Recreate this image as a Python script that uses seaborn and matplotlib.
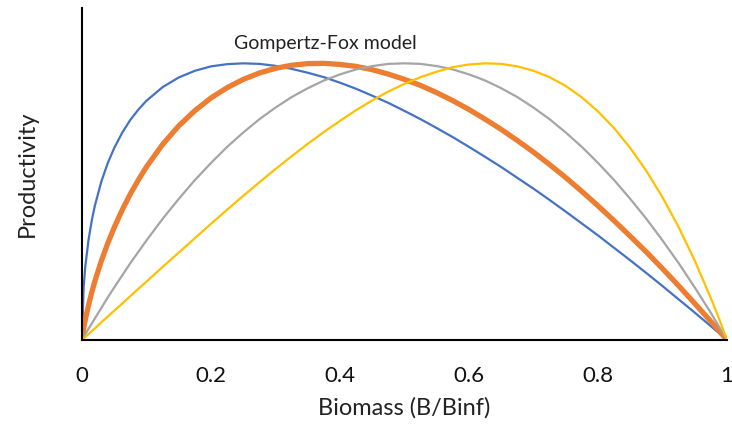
import matplotlib
matplotlib.use("Agg")
import matplotlib.pyplot as plt
import seaborn as sns
import pandas as pd

biomass = [0, 0.0025, 0.005, 0.01, 0.015, 0.02, 0.03, 0.04, 0.05, 0.0625, 0.075, 0.0875, 0.1,
           0.125, 0.15, 0.175, 0.2, 0.225, 0.25, 0.275, 0.3, 0.325, 0.35, 0.375, 0.4,
           0.425, 0.45, 0.475, 0.5, 0.525, 0.55, 0.575, 0.6, 0.625, 0.65, 0.675, 0.7,
           0.725, 0.75, 0.775, 0.8, 0.825, 0.85, 0.875, 0.9, 0.925, 0.95, 0.975, 0.9875, 1.0]

blue = [0, 0.190, 0.263, 0.36, 0.430, 0.486, 0.573, 0.64, 0.694, 0.750, 0.796, 0.833, 0.865,
        0.914, 0.949, 0.973, 0.989, 0.997, 1.0, 0.998, 0.991, 0.980, 0.966, 0.950, 0.930,
        0.908, 0.883, 0.857, 0.828, 0.798, 0.766, 0.733, 0.698, 0.662, 0.625, 0.586, 0.547,
        0.506, 0.464, 0.421, 0.378, 0.333, 0.288, 0.242, 0.195, 0.147, 0.099, 0.050, 0.025, 0]

orange = [0, 0.041, 0.072, 0.125, 0.171, 0.213, 0.286, 0.350, 0.407, 0.471, 0.528, 0.579, 0.626,
          0.707, 0.774, 0.829, 0.875, 0.912, 0.942, 0.965, 0.982, 0.993, 0.999, 1.0, 0.996,
          0.989, 0.977, 0.961, 0.942, 0.920, 0.894, 0.865, 0.833, 0.798, 0.761, 0.721, 0.679,
          0.634, 0.587, 0.537, 0.485, 0.431, 0.375, 0.318, 0.258, 0.196, 0.132, 0.067, 0.034, 0]

grey = [0, 0.010, 0.020, 0.040, 0.059, 0.078, 0.116, 0.154, 0.19, 0.234, 0.278, 0.319, 0.36,
        0.438, 0.51, 0.578, 0.64, 0.698, 0.75, 0.798, 0.84, 0.878, 0.91, 0.938, 0.96,
        0.978, 0.99, 0.998, 1.0, 0.998, 0.99, 0.978, 0.96, 0.938, 0.91, 0.878, 0.84,
        0.798, 0.75, 0.698, 0.64, 0.578, 0.51, 0.438, 0.36, 0.278, 0.19, 0.098, 0.049, 0]

yellow = [0, 0.005, 0.011, 0.021, 0.032, 0.042, 0.064, 0.085, 0.106, 0.132, 0.159, 0.185, 0.211,
          0.264, 0.316, 0.368, 0.420, 0.471, 0.521, 0.570, 0.618, 0.664, 0.709, 0.752, 0.792,
          0.831, 0.866, 0.898, 0.926, 0.950, 0.970, 0.986, 0.996, 1.0, 0.998, 0.989, 0.973,
          0.950, 0.918, 0.877, 0.826, 0.766, 0.694, 0.611, 0.516, 0.408, 0.287, 0.151, 0.078, 0]

x_ticks = [0, 0.2, 0.4, 0.6, 0.8, 1]
x_tick_labels = ["0", "0.2", "0.4", "0.6", "0.8", "1"]

sns.set_style("white")
plt.rcParams["font.family"] = ["Lato", "DejaVu Sans"]

fig = plt.figure(figsize=(7.32, 4.28), dpi=100)
ax = fig.add_axes([82 / 732, 1 - 340 / 428, 645 / 732, 332 / 428])

series = [(blue, "#4472C4", 1.6), (orange, "#ED7D31", 3.8),
          (grey, "#A5A5A5", 1.6), (yellow, "#FFC000", 1.6)]
for vals, col, lw in series:
    df = pd.DataFrame({"B": biomass, "P": vals})
    sns.lineplot(data=df, x="B", y="P", color=col, linewidth=lw, sort=False, ax=ax)

ax.set_xlim(0, 1)
ax.set_ylim(0, 1.2)
ax.set_xticks(x_ticks)
ax.set_xticklabels(x_tick_labels, fontsize=16, color="#111111")
ax.set_yticks([])
ax.tick_params(axis="x", length=0, pad=19)
for s in ["top", "right"]:
    ax.spines[s].set_visible(False)
for s in ["left", "bottom"]:
    ax.spines[s].set_color("black")
    ax.spines[s].set_linewidth(1.5)

ax.set_xlabel("Biomass (B/Binf)", fontsize=17, labelpad=8, color="#222222")
ax.set_ylabel("Productivity", fontsize=17, labelpad=32, color="#222222")
ax.text(0.377, 1.07, "Gompertz-Fox model", fontsize=14, ha="center", va="center",
        color="#222222")

fig.savefig("out.png", dpi=100)
